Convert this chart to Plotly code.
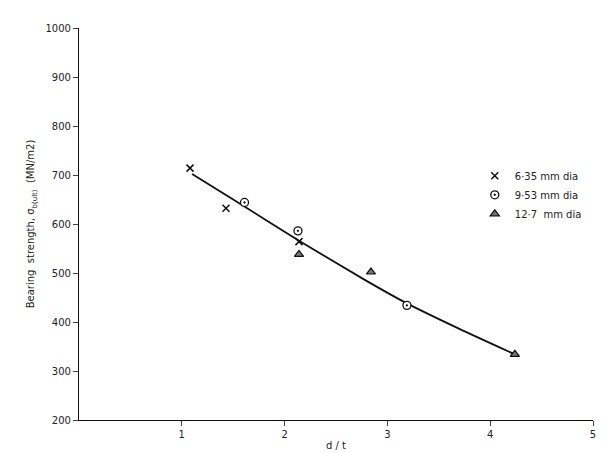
import plotly.graph_objects as go

x635 = [1.08, 1.43, 2.14]
y635 = [714, 632, 564]
x953 = [1.61, 2.13, 3.19]
y953 = [644, 586, 434]
x127 = [2.14, 2.84, 4.24]
y127 = [538, 502, 334]
fit_x = [1.1, 1.5, 2.14, 2.78, 3.19, 3.7, 4.24]
fit_y = [702, 650, 566, 486, 438, 386, 334]

F = dict(family="DejaVu Sans", size=10, color="#222")
fig = go.Figure()
fig.add_trace(go.Scatter(x=fit_x, y=fit_y, mode="lines", line=dict(color="#111", width=1.8, shape="spline", smoothing=0.6), showlegend=False))
fig.add_trace(go.Scatter(x=x635, y=y635, mode="markers", name="6·35 mm dia",
    marker=dict(symbol="x-thin", size=7, line=dict(width=1.5, color="#111"), color="#111")))
fig.add_trace(go.Scatter(x=x953, y=y953, mode="markers", name="9·53 mm dia",
    marker=dict(symbol="circle-dot", size=8, color="white", line=dict(width=1.3, color="#111"))))
fig.add_trace(go.Scatter(x=x127, y=y127, mode="markers", name="12·7  mm dia",
    marker=dict(symbol="triangle-up", size=8, color="#777", line=dict(width=1.2, color="#111"))))

fig.update_layout(width=605, height=453, margin=dict(l=71, r=20, t=20, b=32),
    plot_bgcolor="white", paper_bgcolor="white", font=F,
    legend=dict(x=0.77, y=0.66, xanchor="left", yanchor="top", font=F, bgcolor="rgba(0,0,0,0)"),
    xaxis=dict(range=[0, 5], tickvals=[1, 2, 3, 4, 5], ticks="outside", ticklen=5, showline=True,
               linecolor="#111", linewidth=1.2, showgrid=False, zeroline=False,
               title=dict(text="d / t", font=F, standoff=2)),
    yaxis=dict(range=[200, 1000], dtick=100, ticks="outside", ticklen=5, showline=True,
               linecolor="#111", linewidth=1.2, showgrid=False, zeroline=False,
               title=dict(text="Bearing  strength, σ<sub>b(ult)</sub>  (MN/m2)", font=F, standoff=8)))
fig.write_html("out.html")
